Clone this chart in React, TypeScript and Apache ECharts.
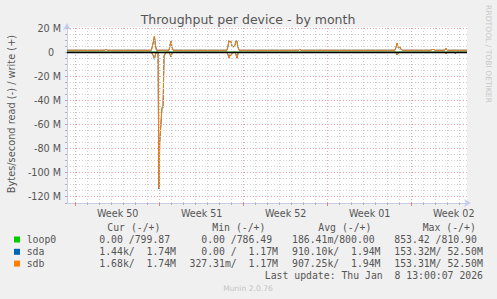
import React, { useEffect, useRef } from 'react';
import * as echarts from 'echarts';

// ---- texts ----
const TITLE = 'Throughput per device - by month';
const Y_NAME = 'Bytes/second read (-) / write (+)';
const SIDE_TEXT = 'RRDTOOL / TOBI OETIKER';
const FOOTER = 'Munin 2.0.76';
const LAST_UPDATE = 'Last update: Thu Jan  8 13:00:07 2026';

// ---- axes (x in days since Sun 2025-12-07 00:00, y in MB/s) ----
const X_MIN = -0.725;
const X_MAX = 32.608;
const Y_MIN = -125.2;
const Y_MAX = 21;
const weekStarts = [0, 7, 14, 21, 28];
const weekCenters = [3.5, 10.5, 17.5, 24.5, 31.5];
const weekLabels = ['Week 50', 'Week 51', 'Week 52', 'Week 01', 'Week 02'];
const yLabelValues = [20, 0, -20, -40, -60, -80, -100, -120];

// ---- legend ----
const devices = ['loop0', 'sda', 'sdb'];
const colors = ['#00CC00', '#0066B3', '#FF8000'];
const headers = ['Cur (-/+)', 'Min (-/+)', 'Avg (-/+)', 'Max (-/+)'];
const curVals = ['  0.00 /799.87', '  1.44k/  1.74M', '  1.68k/  1.74M'];
const minVals = ['  0.00 /786.49', '  0.00 /  1.17M', '327.31m/  1.17M'];
const avgVals = ['186.41m/800.00', '910.10k/  1.94M', '907.25k/  1.94M'];
const maxVals = ['853.42 /810.90', '153.32M/ 52.50M', '153.31M/ 52.50M'];

// ---- series data: [day, MB/s] ----
const loop0Write = [[X_MIN, 0.0008], [X_MAX, 0.0008]];
const loop0Read = [[X_MIN, 0], [X_MAX, 0]];

const sdaWrite = [
  [X_MIN, 1.7], [2.44, 1.7], [2.53, 2.5], [2.61, 1.7],
  [6.31, 1.7], [6.48, 9], [6.56, 13.3], [6.64, 6], [6.73, 1.7],
  [7.78, 1.7], [7.86, 6], [7.94, 9.2], [8.03, 4], [8.11, 1.7],
  [12.61, 1.7], [12.69, 5], [12.78, 9.8], [12.86, 8.5], [12.94, 9], [13.03, 5], [13.11, 4.4],
  [13.19, 4.8], [13.28, 6], [13.36, 9.8], [13.44, 9], [13.53, 4], [13.61, 1.7],
  [18.61, 1.7], [18.69, 2.5], [18.78, 1.7],
  [26.61, 1.7], [26.69, 4], [26.78, 7.3], [26.86, 4], [26.94, 3.5], [27.03, 4.3], [27.11, 2.5], [27.19, 1.7],
  [29.61, 1.7], [29.69, 2.3], [29.86, 2.3], [29.94, 1.7],
  [30.77, 1.7], [30.86, 3.2], [30.94, 1.7], [X_MAX, 1.7],
];
const sdaRead = [
  [X_MIN, 0], [6.31, 0], [6.48, -3], [6.56, -5.8], [6.64, -2], [6.73, 0],
  [6.86, 0], [6.94, -113.5], [7.0, -75], [7.19, -46], [7.28, -46], [7.36, -3], [7.44, -1.5], [7.53, 0],
  [7.78, 0], [7.86, -2], [7.94, -3.8], [8.03, -1], [8.11, 0],
  [12.61, 0], [12.69, -2], [12.78, -4.9], [12.86, -2], [12.94, -3], [13.03, -1], [13.11, 0],
  [13.28, 0], [13.36, -2], [13.44, -4.9], [13.53, -1], [13.61, 0],
  [26.69, 0], [26.78, -2.3], [26.86, -1], [26.94, 0],
  [30.77, 0], [30.86, -1.4], [30.94, 0],
  [31.56, 0], [31.64, -1.1], [31.72, 0], [X_MAX, 0],
];
const sdbWrite = [
  [X_MIN, 1.7], [2.44, 1.7], [2.53, 2.6], [2.61, 1.7],
  [6.31, 1.7], [6.48, 9], [6.56, 13.5], [6.64, 6], [6.73, 1.7],
  [7.78, 1.7], [7.86, 6], [7.94, 9.4], [8.03, 4], [8.11, 1.7],
  [12.61, 1.7], [12.69, 5], [12.78, 10], [12.86, 8.5], [12.94, 9], [13.03, 5], [13.11, 4.4],
  [13.19, 4.8], [13.28, 6], [13.36, 10], [13.44, 9], [13.53, 4], [13.61, 1.7],
  [18.61, 1.7], [18.69, 2.5], [18.78, 1.7],
  [26.61, 1.7], [26.69, 4], [26.78, 7.5], [26.86, 4], [26.94, 3.5], [27.03, 4.4], [27.11, 2.5], [27.19, 1.7],
  [29.61, 1.7], [29.69, 2.3], [29.86, 2.3], [29.94, 1.7],
  [30.77, 1.7], [30.86, 3.3], [30.94, 1.7], [X_MAX, 1.7],
];
const sdbRead = [
  [X_MIN, 0], [6.31, 0], [6.48, -3], [6.56, -5.5], [6.64, -2], [6.73, 0],
  [6.86, 0], [6.94, -113], [7.0, -75], [7.19, -46], [7.28, -46], [7.36, -3], [7.44, -1.5], [7.53, 0],
  [7.78, 0], [7.86, -2], [7.94, -3.6], [8.03, -1], [8.11, 0],
  [12.61, 0], [12.69, -2], [12.78, -4.7], [12.86, -2], [12.94, -3], [13.03, -1], [13.11, 0],
  [13.28, 0], [13.36, -2], [13.44, -4.7], [13.53, -1], [13.61, 0],
  [26.69, 0], [26.78, -2.2], [26.86, -1], [26.94, 0],
  [30.77, 0], [30.86, -1.4], [30.94, 0], [X_MAX, 0],
];

const writeData = [loop0Write, sdaWrite, sdbWrite];
const readData = [loop0Read, sdaRead, sdbRead];

const AXIS_COLOR = '#c4ccf2';
const MINOR = '#d0d0d0';
const MAJOR = '#eba5a5';
const TXT = '#555555';
const SANS = 'DejaVu Sans';
const MONO = 'DejaVu Sans Mono';
const CW = 5.9; // mono char width at legend font

export default function App() {
  const ref = useRef<HTMLDivElement>(null);
  useEffect(() => {
    if (!ref.current) return;
    const chart = echarts.init(ref.current, null, { renderer: 'svg', width: 497, height: 299 });

    const dayTicks: number[] = [];
    for (let d = 0; d <= 32; d++) dayTicks.push(d);
    const yMinorTicks: number[] = [];
    for (let v = -125; v <= 20; v += 5) yMinorTicks.push(v);

    const gridLines: any[] = [];
    dayTicks.forEach((d) => {
      const major = weekStarts.indexOf(d) >= 0;
      gridLines.push({ xAxis: d, lineStyle: { color: major ? MAJOR : MINOR, type: [1, 2], width: 1 } });
    });
    yMinorTicks.forEach((v) => {
      if (v === 0 || v <= Y_MIN) return;
      const major = v % 20 === 0;
      gridLines.push({ yAxis: v, lineStyle: { color: major ? MAJOR : MINOR, type: [1, 2], width: 1 } });
    });

    const series: any[] = [
      {
        type: 'line', data: [], z: 1, silent: true,
        markLine: { silent: true, symbol: 'none', label: { show: false }, animation: false, data: gridLines },
      },
    ];
    devices.forEach((name, i) => {
      series.push({
        name: name + ' read', type: 'line', data: readData[i], showSymbol: false, z: 2,
        lineStyle: { color: colors[i], width: 1 }, itemStyle: { color: colors[i] },
      });
      series.push({
        name: name + ' write', type: 'line', data: writeData[i], showSymbol: false, z: 2,
        lineStyle: { color: colors[i], width: 1 }, itemStyle: { color: colors[i] },
      });
    });
    series.push({
      type: 'line', data: [], z: 5, silent: true,
      markLine: {
        silent: true, symbol: 'none', label: { show: false }, animation: false,
        data: [{ yAxis: 0, lineStyle: { color: '#000000', type: 'solid', width: 1.3 } }],
      },
    });

    const graphic: any[] = [
      { type: 'text', x: 248, y: 19, style: { text: TITLE, font: `12.5px "${SANS}"`, fill: TXT, textAlign: 'center', textVerticalAlign: 'middle' } },
      { type: 'text', x: 11, y: 114, rotation: Math.PI / 2, style: { text: Y_NAME, font: `9.8px "${SANS}"`, fill: TXT, textAlign: 'center', textVerticalAlign: 'middle' } },
      { type: 'text', x: 488.5, y: 54, rotation: -Math.PI / 2, style: { text: SIDE_TEXT, font: `7.6px "${SANS}"`, fill: '#c8c8c8', textAlign: 'center', textVerticalAlign: 'middle' } },
      { type: 'text', x: 248, y: 288, style: { text: FOOTER, font: `7.6px "${SANS}"`, fill: '#c4c4c4', textAlign: 'center', textVerticalAlign: 'middle' } },
      { type: 'text', x: 483, y: 275.5, style: { text: LAST_UPDATE, font: `9.8px "${MONO}"`, fill: TXT, textAlign: 'right', textVerticalAlign: 'middle' } },
    ];
    const headerX = [107.3, 212.3, 318.3, 422.7];
    headers.forEach((h, k) => {
      graphic.push({ type: 'text', x: headerX[k], y: 227, style: { text: h, font: `9.8px "${MONO}"`, fill: TXT, textAlign: 'left', textVerticalAlign: 'middle' } });
    });
    const colX = [87.5, 189.5, 292, 394.3];
    const rowY = [239.5, 251.8, 263.6];
    const cols = [curVals, minVals, avgVals, maxVals];
    devices.forEach((name, i) => {
      const y = rowY[i];
      graphic.push({ type: 'rect', shape: { x: 14, y: y - 3, width: 6, height: 6 }, style: { fill: colors[i] } });
      graphic.push({ type: 'text', x: 26.7, y, style: { text: name, font: `9.8px "${MONO}"`, fill: TXT, textAlign: 'left', textVerticalAlign: 'middle' } });
      cols.forEach((col, k) => {
        const s = col[i];
        const t = s.replace(/^ +/, '');
        const lead = s.length - t.length;
        graphic.push({ type: 'text', x: colX[k] + lead * CW, y, style: { text: t, font: `9.8px "${MONO}"`, fill: TXT, textAlign: 'left', textVerticalAlign: 'middle' } });
      });
    });

    chart.setOption({
      animation: false,
      backgroundColor: '#f0f0f0',
      grid: { left: 67, right: 30, top: 27, bottom: 96, show: true, backgroundColor: '#ffffff', borderWidth: 0 },
      xAxis: [
        {
          type: 'value', min: X_MIN, max: X_MAX, position: 'bottom',
          axisLine: { show: true, onZero: false, lineStyle: { color: AXIS_COLOR, width: 1 }, symbol: ['none', 'arrow'], symbolSize: [6, 7], symbolOffset: [0, 4] },
          axisTick: { show: true, customValues: dayTicks, length: 2, lineStyle: { color: '#b0b0b0' } },
          axisLabel: { show: false },
          splitLine: { show: false },
        },
        {
          type: 'value', min: X_MIN, max: X_MAX, position: 'bottom',
          axisLine: { show: false, onZero: false },
          axisTick: { show: true, customValues: weekStarts, length: 3, lineStyle: { color: '#e08080' } },
          axisLabel: {
            show: true, customValues: weekCenters, margin: 5, color: TXT, fontSize: 9.6, fontFamily: SANS,
            formatter: (v: number) => weekLabels[weekCenters.indexOf(v)] ?? '',
          },
          splitLine: { show: false },
        },
      ],
      yAxis: {
        type: 'value', min: Y_MIN, max: Y_MAX,
        axisLine: { show: true, onZero: false, lineStyle: { color: AXIS_COLOR, width: 1 }, symbol: ['none', 'arrow'], symbolSize: [6, 7], symbolOffset: [0, 4] },
        axisTick: { show: true, customValues: yMinorTicks.filter((v) => v > Y_MIN), length: 2, lineStyle: { color: '#b0b0b0' } },
        axisLabel: {
          show: true, customValues: yLabelValues, margin: 6, color: TXT, fontSize: 9.6, fontFamily: SANS,
          formatter: (v: number) => (v === 0 ? '{z|0}' : `${v} M`),
          rich: { z: { color: TXT, fontSize: 9.6, fontFamily: SANS, padding: [0, 7, 0, 0] } },
        },
        splitLine: { show: false },
      },
      series,
      graphic,
    });
    return () => chart.dispose();
  }, []);
  return (
    <div style={{ position: 'fixed', left: 0, top: 0, width: 497, height: 299, background: '#f0f0f0' }}>
      <style>{'#root svg text{white-space:pre}'}</style>
      <div ref={ref} style={{ width: 497, height: 299 }} />
    </div>
  );
}
